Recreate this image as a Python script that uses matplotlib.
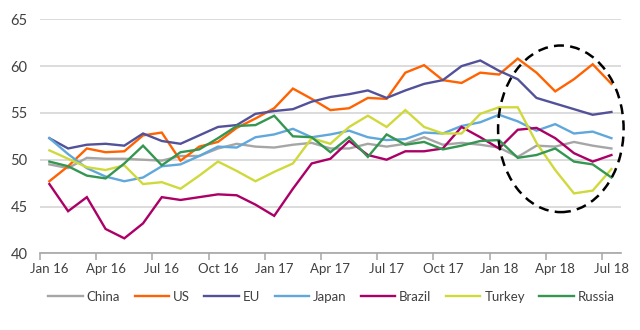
import matplotlib
matplotlib.use("Agg")
import matplotlib.pyplot as plt
from matplotlib.patches import Ellipse
import numpy as np

months = ["Jan 16", "Feb 16", "Mar 16", "Apr 16", "May 16", "Jun 16", "Jul 16", "Aug 16",
          "Sep 16", "Oct 16", "Nov 16", "Dec 16", "Jan 17", "Feb 17", "Mar 17", "Apr 17",
          "May 17", "Jun 17", "Jul 17", "Aug 17", "Sep 17", "Oct 17", "Nov 17", "Dec 17",
          "Jan 18", "Feb 18", "Mar 18", "Apr 18", "May 18", "Jun 18", "Jul 18"]

china = [49.5, 49.1, 50.2, 50.1, 50.1, 50.0, 49.9, 50.4, 50.4, 51.2, 51.7, 51.4, 51.3, 51.6, 51.8, 51.2,
         51.2, 51.7, 51.4, 51.7, 52.4, 51.6, 51.8, 51.6, 51.3, 50.3, 51.5, 51.4, 51.9, 51.5, 51.2]
us = [47.7, 49.3, 51.2, 50.8, 50.9, 52.6, 52.9, 49.9, 51.4, 51.9, 53.4, 54.4, 55.5, 57.6, 56.5, 55.3,
      55.5, 56.6, 56.5, 59.3, 60.1, 58.5, 58.2, 59.3, 59.1, 60.8, 59.3, 57.3, 58.6, 60.2, 58.1]
eu = [52.3, 51.2, 51.6, 51.7, 51.5, 52.8, 52.0, 51.7, 52.6, 53.5, 53.7, 54.9, 55.2, 55.4, 56.2, 56.7,
      57.0, 57.4, 56.6, 57.4, 58.1, 58.5, 60.0, 60.6, 59.5, 58.6, 56.6, 56.0, 55.4, 54.8, 55.1]
japan = [52.3, 50.6, 49.1, 48.2, 47.7, 48.1, 49.3, 49.5, 50.4, 51.4, 51.3, 52.4, 52.7, 53.3, 52.4, 52.7,
         53.1, 52.4, 52.1, 52.2, 52.9, 52.8, 53.6, 54.0, 54.8, 54.1, 53.1, 53.8, 52.8, 53.0, 52.3]
brazil = [47.4, 44.5, 46.0, 42.6, 41.6, 43.2, 46.0, 45.7, 46.0, 46.3, 46.2, 45.2, 44.0, 46.9, 49.6, 50.1,
          52.0, 50.5, 50.0, 50.9, 50.9, 51.2, 53.5, 52.4, 51.2, 53.2, 53.4, 52.3, 50.7, 49.8, 50.5]
turkey = [51.0, 50.1, 49.2, 48.9, 49.4, 47.4, 47.6, 46.9, 48.3, 49.8, 48.8, 47.7, 48.7, 49.6, 52.3, 51.7,
          53.5, 54.7, 53.5, 55.3, 53.5, 52.8, 52.8, 54.9, 55.6, 55.6, 51.8, 48.9, 46.4, 46.7, 49.0]
russia = [49.8, 49.3, 48.3, 48.0, 49.6, 51.5, 49.4, 50.8, 51.1, 52.3, 53.6, 53.7, 54.7, 52.5, 52.4, 50.8,
          52.4, 50.3, 52.7, 51.6, 51.9, 51.1, 51.5, 52.0, 52.1, 50.2, 50.5, 51.2, 49.8, 49.5, 48.1]

series = [("China", china, "#A6A6A6"), ("US", us, "#FF6200"), ("EU", eu, "#525199"),
          ("Japan", japan, "#60A8DC"), ("Brazil", brazil, "#AB0066"),
          ("Turkey", turkey, "#D0D93C"), ("Russia", russia, "#349651")]

yticks = [40, 45, 50, 55, 60, 65]

plt.rcParams['font.family'] = ['Lato', 'DejaVu Sans']
fig = plt.figure(figsize=(6.4, 3.3), dpi=100)
ax = fig.add_axes([0.0625, 0.2324, 0.9075, 0.7091])

x = np.arange(len(months))
for name, vals, col in series:
    ax.plot(x, vals, color=col, lw=1.7, label=name, solid_joinstyle='miter')

ax.set_xlim(-0.5, len(months) - 0.5)
ax.set_ylim(40, 65)
ax.set_yticks(yticks)
ax.set_yticklabels([str(v) for v in yticks])
ax.grid(axis='y', color='#D9D9D9', lw=1.3)
ax.set_axisbelow(True)
for s in ['top', 'right', 'left']:
    ax.spines[s].set_visible(False)
ax.spines['bottom'].set_color('#A6A6A6')
ax.spines['bottom'].set_linewidth(1.2)

ax.set_xticks(x[::3])
ax.set_xticklabels(months[::3])
ax.set_xticks(np.arange(-0.5, len(months) - 0.5, 3), minor=True)
ax.tick_params(axis='x', which='major', length=0, pad=7, labelsize=9.5, labelcolor='#404040')
ax.tick_params(axis='x', which='minor', length=5, width=1.1, color='#A6A6A6', direction='out')
ax.tick_params(axis='y', length=0, pad=9, labelsize=10.5, labelcolor='#404040')

ell = Ellipse((27.3, 53.3), 6.7, 17.8, fill=False, edgecolor='black', lw=1.8,
              linestyle=(0, (4, 2.5)), clip_on=False, zorder=5)
ax.add_patch(ell)

fig.legend(loc='center', bbox_to_anchor=(0.518, 0.1), ncol=7, frameon=False,
           fontsize=9.5, handlelength=2.6, columnspacing=1.1, handletextpad=0.3,
           labelcolor='#404040')

fig.savefig("out.png", dpi=100)
